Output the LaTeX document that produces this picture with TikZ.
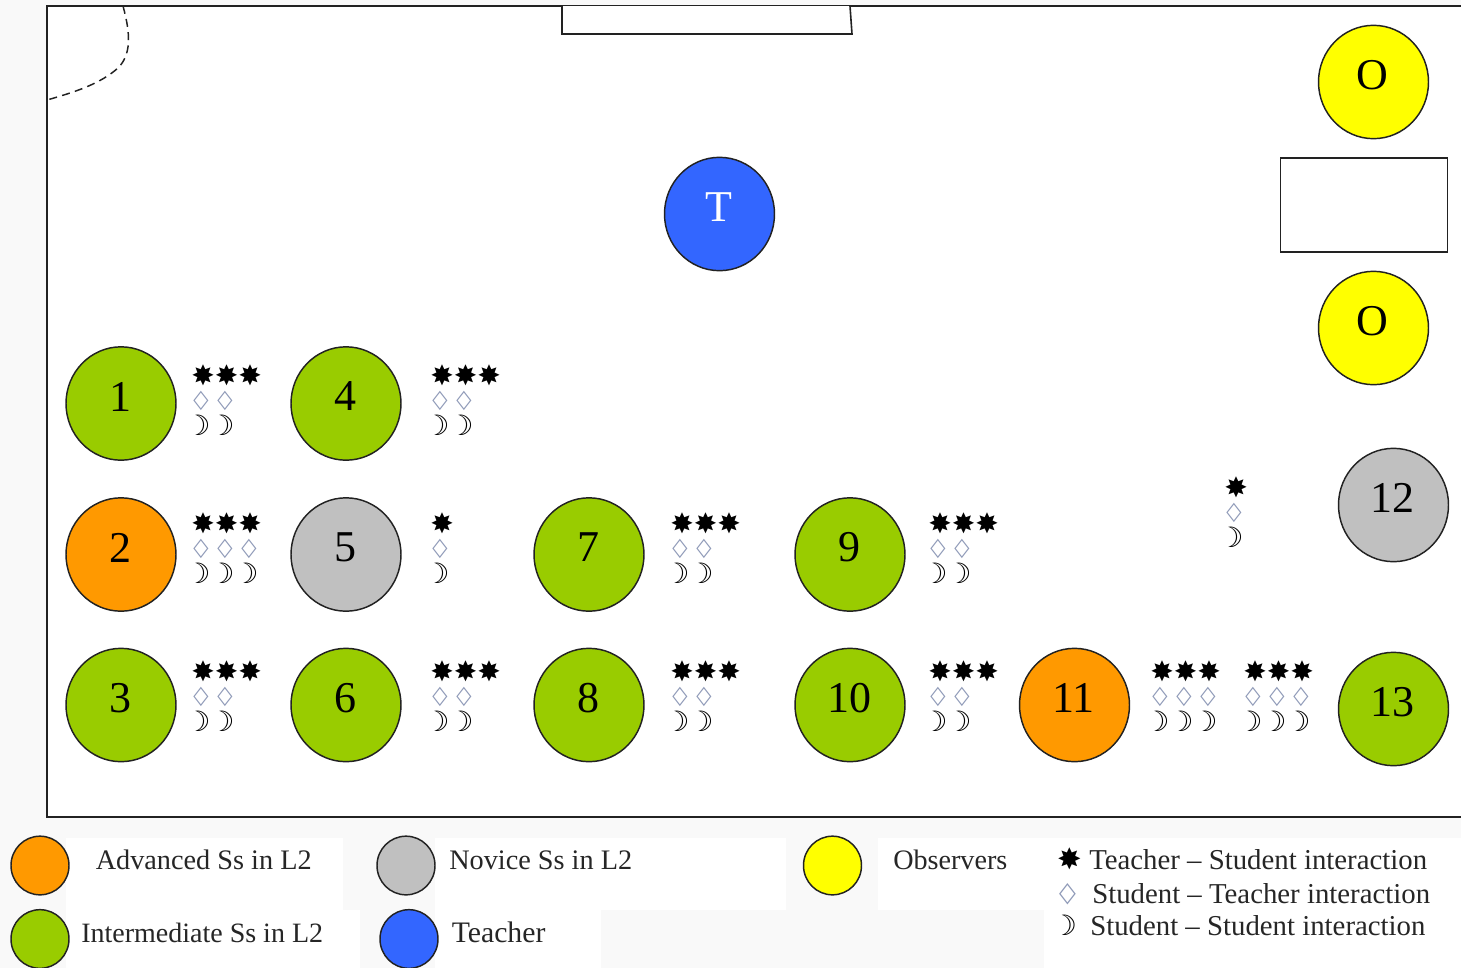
\documentclass[tikz,border=0pt]{standalone}
\usepackage{fontspec}
\setmainfont{Liberation Serif}
\newfontfamily\symfont{DejaVu Sans}
\definecolor{pagebg}{HTML}{F9F9F9}
\definecolor{cgreen}{HTML}{99CC00}
\definecolor{corange}{HTML}{FF9900}
\definecolor{cgrey}{HTML}{C0C0C0}
\definecolor{cblue}{HTML}{3366FF}
\definecolor{cyellow}{HTML}{FFFF00}
\definecolor{linec}{HTML}{222222}
\definecolor{dmd}{HTML}{8F9AB8}
\usetikzlibrary{shapes.geometric}
\tikzset{
  seat/.style={ellipse,draw=linec,line width=1.1pt,minimum width=82.5pt,minimum height=85pt,inner sep=0pt},
  keydisc/.style={ellipse,draw=linec,line width=1.1pt,minimum width=43.5pt,minimum height=44pt,inner sep=0pt},
  seatlabel/.style={font=\fontsize{33}{33}\selectfont,inner sep=0pt,text=black!85},
  keytext/.style={font=\fontsize{#1}{24}\selectfont,anchor=base west,inner sep=0pt,text=black!85},
  starglyph/.style={inner sep=0pt,font=\symfont\fontsize{21}{21}\selectfont},
  dmdglyph/.style={inner sep=0pt,text=dmd,xscale=0.78,transform shape,font=\symfont\fontsize{19}{19}\selectfont},
  moonglyph/.style={inner sep=0pt,text=black,font=\symfont\bfseries\fontsize{21}{21}\selectfont},
  furn/.style={draw=linec,line width=1.2pt,fill=white},
  wall/.style={draw=linec,line width=1.3pt},
  door/.style={draw=linec,line width=1.1pt,dash pattern=on 6pt off 4pt},
  patch/.style={fill=white,draw=none},
}
% \markset{id}{x}{y}{stars}{diamonds}{moons}
\newcommand{\markset}[6]{%
  \foreach \i in {1,...,#4}{\node[starglyph] (s#1\i) at ({#2+(\i-1)*23.5},{#3}) {✸};}
  \foreach \i in {1,...,#5}{\node[dmdglyph] (d#1\i) at ({#2-2+(\i-1)*24},{#3+25.5}) {◇};}
  \foreach \i in {1,...,#6}{\node[moonglyph] (m#1\i) at ({#2-5+(\i-1)*24},{#3+50}) {☽};}
}
% \seatnode{id}{x}{y}{colour}{label}{text colour}
\newcommand{\seatnode}[6]{%
  \node[seat,fill=#4] (c#1) at (#2,#3) {};
  \node[seatlabel,text=#6] (l#1) at (#2-1,#3-7) {#5};
}
\begin{document}
\begin{tikzpicture}[x=0.75pt,y=-0.75pt]
\useasboundingbox (0,0) rectangle (1461,968);
\fill[pagebg] (0,0) rectangle (1461,968);
% legend white patches
\fill[patch] (66,838) rectangle (343,910);
\fill[patch] (66,910) rectangle (360,968);
\fill[patch] (435,838) rectangle (786,910);
\fill[patch] (435,910) rectangle (601,968);
\fill[patch] (878,838) rectangle (1461,910);
\fill[patch] (1044,910) rectangle (1461,968);
% room
\fill[white] (47,6) rectangle (1461,817);
\draw[wall] (1461,6) -- (47,6) -- (47,817) -- (1461,817);
\draw[door] (123,6) .. controls (131,35) and (131,55) .. (118,68) .. controls (100,84) and (75,92) .. (47,100);
\draw[furn] (562,6) -- (562,34) -- (852,34) -- (850,6);
\draw[furn] (1280.5,158) rectangle (1447.5,252);
% seats
\seatnode{O1}{1373.5}{82}{cyellow}{O}{black}
\seatnode{O2}{1373.5}{328}{cyellow}{O}{black}
\seatnode{T}{719.5}{214}{cblue}{T}{white}
\seatnode{1}{121}{403.5}{cgreen}{1}{black}
\seatnode{4}{346}{403.5}{cgreen}{4}{black}
\seatnode{2}{121}{554.5}{corange}{2}{black}
\seatnode{5}{346}{554.5}{cgrey}{5}{black}
\seatnode{7}{589}{554.5}{cgreen}{7}{black}
\seatnode{9}{850}{554.5}{cgreen}{9}{black}
\seatnode{3}{121}{705}{cgreen}{3}{black}
\seatnode{6}{346}{705}{cgreen}{6}{black}
\seatnode{8}{589}{705}{cgreen}{8}{black}
\seatnode{10}{850}{705}{cgreen}{10}{black}
\seatnode{11}{1074.5}{705}{corange}{11}{black}
\seatnode{12}{1393.5}{505}{cgrey}{12}{black}
\seatnode{13}{1393.5}{709}{cgreen}{13}{black}
% interaction marks
\markset{a}{203}{375}{3}{2}{2}
\markset{b}{442}{375}{3}{2}{2}
\markset{c}{203}{523}{3}{3}{3}
\markset{e}{442}{523}{1}{1}{1}
\markset{f}{682}{523}{3}{2}{2}
\markset{g}{940}{523}{3}{2}{2}
\markset{h}{203}{671}{3}{2}{2}
\markset{i}{442}{671}{3}{2}{2}
\markset{j}{682}{671}{3}{2}{2}
\markset{k}{940}{671}{3}{2}{2}
\markset{l}{1162}{671}{3}{3}{3}
\markset{n}{1255}{671}{3}{3}{3}
\markset{p}{1236}{487}{1}{1}{1}
% legend
\node[keydisc,fill=corange] (kadv) at (40,865.5) {};
\node[keydisc,fill=cgreen] (kint) at (40,939) {};
\node[keydisc,fill=cgrey] (knov) at (406,865.5) {};
\node[keydisc,fill=cblue] (ktea) at (409,939) {};
\node[keydisc,fill=cyellow] (kobs) at (832.5,865.5) {};
\node[keytext=21.2] (tadv) at (95.5,869) {Advanced Ss in L2};
\node[keytext=21] (tint) at (81,942) {Intermediate Ss in L2};
\node[keytext=21.2] (tnov) at (449,869) {Novice Ss in L2};
\node[keytext=22.3] (ttea) at (451.5,942) {Teacher};
\node[keytext=21.1] (tobs) at (893,869) {Observers};
\node[starglyph,font=\symfont\fontsize{22}{22}\selectfont] (ks) at (1069.5,859) {✸};
\node[dmdglyph,font=\symfont\fontsize{21}{21}\selectfont] (kd) at (1067.5,894) {◇};
\node[moonglyph] (km) at (1064.5,925) {☽};
\node[keytext=21.6] (t1) at (1089,869.5) {Teacher – Student interaction};
\node[keytext=21.6] (t2) at (1092,903.5) {Student – Teacher interaction};
\node[keytext=21.6] (t3) at (1090,935.5) {Student – Student interaction};
\end{tikzpicture}
\end{document}
